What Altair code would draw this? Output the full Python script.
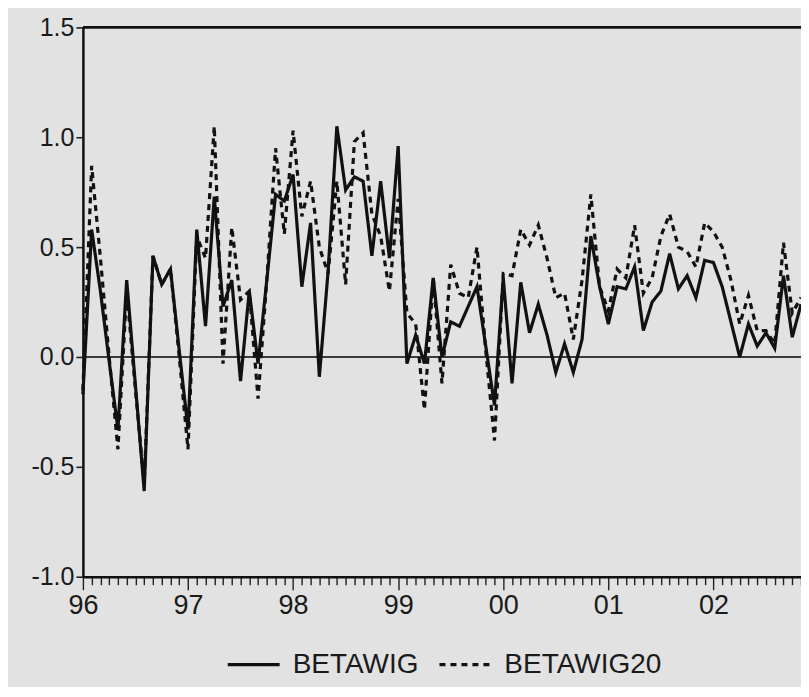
import altair as alt
import pandas as pd

# monthly observations, Jan 1996 onward
betawig = [-0.17, 0.58, 0.30, -0.02, -0.33, 0.35, -0.13, -0.61, 0.46, 0.33, 0.40, 0.03,
           -0.33, 0.58, 0.14, 0.73, 0.23, 0.35, -0.11, 0.30, -0.03, 0.35, 0.74, 0.71,
           0.83, 0.32, 0.61, -0.09, 0.39, 1.05, 0.76, 0.82, 0.80, 0.46, 0.80, 0.45,
           0.96, -0.03, 0.10, -0.03, 0.36, 0.00, 0.16, 0.14, 0.23, 0.32, 0.05, -0.22,
           0.36, -0.12, 0.34, 0.11, 0.24, 0.10, -0.07, 0.06, -0.07, 0.08, 0.55, 0.32,
           0.15, 0.32, 0.31, 0.41, 0.12, 0.25, 0.30, 0.47, 0.31, 0.37, 0.27, 0.44,
           0.43, 0.32, 0.16, 0.00, 0.15, 0.05, 0.11, 0.04, 0.37, 0.09, 0.24]
betawig20 = [-0.15, 0.87, 0.45, 0.00, -0.42, 0.30, -0.15, -0.58, 0.46, 0.33, 0.40, 0.00,
             -0.42, 0.55, 0.45, 1.05, -0.03, 0.59, 0.26, 0.30, -0.19, 0.35, 0.95, 0.56,
             1.03, 0.64, 0.80, 0.50, 0.38, 0.80, 0.33, 0.98, 1.02, 0.65, 0.55, 0.30,
             0.72, 0.20, 0.15, -0.24, 0.36, -0.12, 0.42, 0.29, 0.27, 0.50, 0.03, -0.38,
             0.38, 0.37, 0.58, 0.51, 0.60, 0.45, 0.27, 0.29, 0.08, 0.35, 0.74, 0.32,
             0.21, 0.40, 0.36, 0.60, 0.29, 0.36, 0.55, 0.65, 0.50, 0.48, 0.41, 0.61,
             0.57, 0.50, 0.35, 0.15, 0.28, 0.12, 0.12, 0.06, 0.52, 0.20, 0.27]
series_names = ["BETAWIG", "BETAWIG20"]
start_year = 1996
y_ticks = [-1.0, -0.5, 0.0, 0.5, 1.0, 1.5]

n = len(betawig)
t = [start_year + i / 12 for i in range(n)]
df = pd.DataFrame({
    "t": t + t,
    "value": betawig + betawig20,
    "series": [series_names[0]] * n + [series_names[1]] * n,
})

x_end = start_year + (n - 1) / 12
month_ticks = [start_year + i / 12 for i in range(n)]
is_year = "abs(datum.value - round(datum.value)) < 0.01"

FONT = "Liberation Sans"
INK = "#1a1a1a"

x_scale = alt.Scale(domain=[start_year, x_end], nice=False, zero=False)
y_scale = alt.Scale(domain=[-1.0, 1.5], nice=False)

x_axis = alt.Axis(
    values=month_ticks,
    labelExpr=f"{is_year} ? substring(toString(round(datum.value)), 2, 4) : ''",
    tickSize={"condition": {"test": is_year, "value": 13}, "value": 8},
    labelOverlap=False, labelFlush=False, grid=False, title=None,
    labelFontSize=27, labelFont=FONT, labelColor=INK, labelPadding=3,
    domainColor="#111", domainWidth=2.5, tickColor="#222", tickWidth=1.4,
)
y_axis = alt.Axis(
    values=y_ticks,
    labelExpr="datum.value < 0 ? '-' + format(abs(datum.value), '.1f') : format(datum.value, '.1f')",
    grid=False, title=None,
    labelFontSize=25, labelFont=FONT, labelColor=INK, labelPadding=2,
    tickSize=7, tickColor="#222", tickWidth=1.6,
    domainColor="#111", domainWidth=2.5,
)

lines = alt.Chart(df).mark_line(strokeWidth=3.2, color="#111").encode(
    x=alt.X("t:Q", scale=x_scale, axis=x_axis),
    y=alt.Y("value:Q", scale=y_scale, axis=y_axis),
    strokeDash=alt.StrokeDash(
        "series:N",
        scale=alt.Scale(domain=series_names, range=[[1, 0], [6, 5]]),
        legend=alt.Legend(
            orient="none", legendX=143, legendY=610, direction="horizontal",
            title=None, symbolType="stroke", symbolSize=2700,
            symbolStrokeWidth=3.2, symbolStrokeColor="#111",
            labelFontSize=28, labelFont=FONT, labelColor=INK,
            labelOffset=11, columnPadding=14, labelLimit=400,
        ),
    ),
)

zero = alt.Chart(pd.DataFrame({"y": [0.0]})).mark_rule(
    color="#3a3a3a", strokeWidth=2.2
).encode(y=alt.Y("y:Q", scale=y_scale))

top = alt.Chart(pd.DataFrame({"y": [1.5]})).mark_rule(
    color="#111", strokeWidth=2.8
).encode(y=alt.Y("y:Q", scale=y_scale))

chart = alt.layer(zero, top, lines).properties(
    width=719, height=550,
    padding={"left": 75, "top": 19, "right": 0, "bottom": 110},
    autosize="none",
    background="#e2e2e2",
).configure_view(stroke=None)

chart.save("out.html", embed_options={"renderer": "svg", "actions": False})
